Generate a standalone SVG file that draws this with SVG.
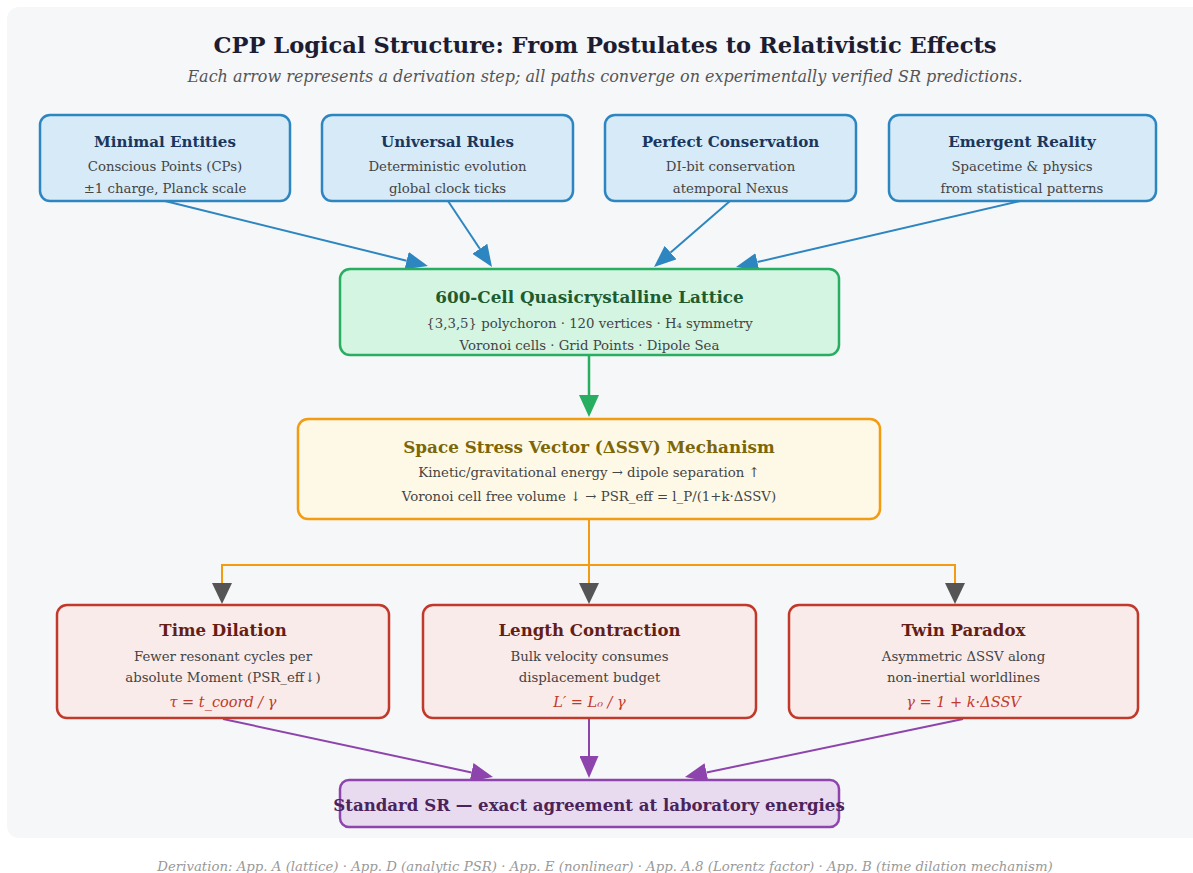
<svg xmlns="http://www.w3.org/2000/svg" width="1193" height="873" viewBox="0 0 1193 873">
<style>
text{font-family:"DejaVu Serif","Liberation Serif",serif;text-anchor:middle}
.title{font-size:22.6px;font-weight:bold;fill:#1c1c32}
.sub{font-size:16px;font-style:italic;fill:#555}
.foot{font-size:13.3px;font-style:italic;fill:#999}
.bt{font-size:15.1px;font-weight:bold}
.bd{font-size:13.3px;fill:#444}
.blue rect{fill:#d6eaf8;stroke:#2e86c1;stroke-width:2.5}
.blue .bt{fill:#1a365d}
.green rect{fill:#d5f5e3;stroke:#27ae60;stroke-width:2.5}
.green .bt{fill:#1e5c30;font-size:16.8px}
.orange rect{fill:#fef9e7;stroke:#f39c12;stroke-width:2.5}
.orange .bt{fill:#7d6608;font-size:16.8px}
.red rect{fill:#f9ebea;stroke:#c0392b;stroke-width:2.5}
.red .bt{fill:#641e16;font-size:16.6px}
.red .fm{font-size:14.5px;font-style:italic;fill:#c0392b}
.purple rect{fill:#e8daef;stroke:#8e44ad;stroke-width:2.5}
.purple .bt{fill:#4a235a;font-size:16.6px}
.cb{stroke:#2e86c1;stroke-width:2;fill:none}
.cg{stroke:#27ae60;stroke-width:2.5;fill:none}
.co{stroke:#f39c12;stroke-width:2;fill:none}
.cp{stroke:#8e44ad;stroke-width:2;fill:none}
</style>
<defs>
<marker id="mb" markerUnits="userSpaceOnUse" markerWidth="22" markerHeight="18" refX="0" refY="9" orient="auto"><path d="M0,0 L22,9 L0,18 Z" fill="#2e86c1"/></marker>
<marker id="mg" markerUnits="userSpaceOnUse" markerWidth="22" markerHeight="20" refX="0" refY="10" orient="auto"><path d="M0,0 L22,10 L0,20 Z" fill="#27ae60"/></marker>
<marker id="mk" markerUnits="userSpaceOnUse" markerWidth="21" markerHeight="20" refX="0" refY="10" orient="auto"><path d="M0,0 L21,10 L0,20 Z" fill="#555"/></marker>
<marker id="mp" markerUnits="userSpaceOnUse" markerWidth="22" markerHeight="19" refX="0" refY="9.5" orient="auto"><path d="M0,0 L22,9.5 L0,19 Z" fill="#8e44ad"/></marker>
</defs>
<rect x="0" y="0" width="1193" height="873" fill="#ffffff"/>
<rect x="7" y="7" width="1200" height="831" rx="12" fill="#f6f7f9"/>
<text class="title" x="605" y="53">CPP Logical Structure: From Postulates to Relativistic Effects</text>
<text class="sub" x="605" y="82">Each arrow represents a derivation step; all paths converge on experimentally verified SR predictions.</text>

<g id="connectors">
<path class="cb" d="M165,201 L406.6,260.7" marker-end="url(#mb)"/>
<path class="cb" d="M448,201 L479.8,248.7" marker-end="url(#mb)"/>
<path class="cb" d="M730,201 L670.6,252.6" marker-end="url(#mb)"/>
<path class="cb" d="M1020,201 L757.4,262" marker-end="url(#mb)"/>
<path class="cg" d="M589,356 L589,395" marker-end="url(#mg)"/>
<path class="co" d="M589,519 V565 M222,565 H956"/>
<path class="co" d="M222,564 V583" marker-end="url(#mk)"/>
<path class="co" d="M589,564 V583" marker-end="url(#mk)"/>
<path class="co" d="M955,564 V583" marker-end="url(#mk)"/>
<path class="cp" d="M223,719 L471.5,772.4" marker-end="url(#mp)"/>
<path class="cp" d="M589,719 L589,756" marker-end="url(#mp)"/>
<path class="cp" d="M963,719 L706.5,772.5" marker-end="url(#mp)"/>
</g>

<g id="n-minimal" class="blue">
<rect x="40" y="115" width="250" height="86" rx="10"/>
<text class="bt" x="165" y="147">Minimal Entities</text>
<text class="bd" x="165" y="171">Conscious Points (CPs)</text>
<text class="bd" x="165" y="193">±1 charge, Planck scale</text>
</g>
<g id="n-rules" class="blue">
<rect x="322" y="115" width="251" height="86" rx="10"/>
<text class="bt" x="447.5" y="147">Universal Rules</text>
<text class="bd" x="447.5" y="171">Deterministic evolution</text>
<text class="bd" x="447.5" y="193">global clock ticks</text>
</g>
<g id="n-conservation" class="blue">
<rect x="605" y="115" width="251" height="86" rx="10"/>
<text class="bt" x="730.5" y="147">Perfect Conservation</text>
<text class="bd" x="730.5" y="171">DI-bit conservation</text>
<text class="bd" x="730.5" y="193">atemporal Nexus</text>
</g>
<g id="n-emergent" class="blue">
<rect x="889" y="115" width="267" height="86" rx="10"/>
<text class="bt" x="1022" y="147">Emergent Reality</text>
<text class="bd" x="1022" y="171">Spacetime &amp; physics</text>
<text class="bd" x="1022" y="193">from statistical patterns</text>
</g>

<g id="n-lattice" class="green">
<rect x="340" y="269" width="499" height="86" rx="10"/>
<text class="bt" x="589.5" y="303">600-Cell Quasicrystalline Lattice</text>
<text class="bd" x="589.5" y="328">{3,3,5} polychoron · 120 vertices · H₄ symmetry</text>
<text class="bd" x="589.5" y="350">Voronoi cells · Grid Points · Dipole Sea</text>
</g>

<g id="n-ssv" class="orange">
<rect x="298" y="419" width="582" height="100" rx="10"/>
<text class="bt" x="589" y="453">Space Stress Vector (ΔSSV) Mechanism</text>
<text class="bd" x="589" y="477">Kinetic/gravitational energy → dipole separation ↑</text>
<text class="bd" x="589" y="501">Voronoi cell free volume ↓ → PSR_eff = l_P/(1+k·ΔSSV)</text>
</g>

<g id="n-time" class="red">
<rect x="57" y="605" width="332" height="113" rx="10"/>
<text class="bt" x="223" y="636">Time Dilation</text>
<text class="bd" x="223" y="661">Fewer resonant cycles per</text>
<text class="bd" x="223" y="682">absolute Moment (PSR_eff↓)</text>
<text class="fm" x="223" y="707">τ = t_coord / γ</text>
</g>
<g id="n-length" class="red">
<rect x="423" y="605" width="333" height="113" rx="10"/>
<text class="bt" x="589.5" y="636">Length Contraction</text>
<text class="bd" x="589.5" y="661">Bulk velocity consumes</text>
<text class="bd" x="589.5" y="682">displacement budget</text>
<text class="fm" x="589.5" y="707">L′ = L₀ / γ</text>
</g>
<g id="n-twin" class="red">
<rect x="789" y="605" width="349" height="113" rx="10"/>
<text class="bt" x="963.5" y="636">Twin Paradox</text>
<text class="bd" x="963.5" y="661">Asymmetric ΔSSV along</text>
<text class="bd" x="963.5" y="682">non-inertial worldlines</text>
<text class="fm" x="963.5" y="707">γ = 1 + k·ΔSSV</text>
</g>

<g id="n-sr" class="purple">
<rect x="340" y="780" width="499" height="47" rx="9"/>
<text class="bt" x="589" y="811">Standard SR — exact agreement at laboratory energies</text>
</g>

<text class="foot" x="605" y="871">Derivation: App. A (lattice) · App. D (analytic PSR) · App. E (nonlinear) · App. A.8 (Lorentz factor) · App. B (time dilation mechanism)</text>
</svg>
